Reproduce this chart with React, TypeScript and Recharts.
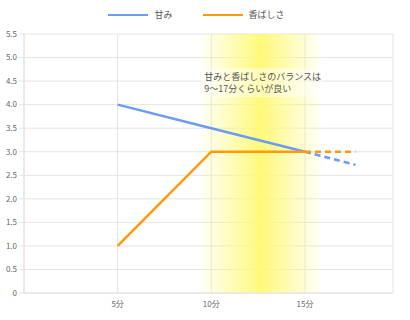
import React from "react"
import {
  LineChart,
  Line,
  XAxis,
  YAxis,
  CartesianGrid,
  Legend,
  ReferenceArea,
} from "recharts"

const minutes = [5, 10, 15]
const amami = [4.0, 3.5, 3.0]
const kaori = [1.0, 3.0, 3.0]

// forecast part, drawn dashed
const forecastMinutes = [15, 17.7]
const amamiForecast = [3.0, 2.72]
const kaoriForecast = [3.0, 3.0]

const yTicks = [0, 0.5, 1, 1.5, 2, 2.5, 3, 3.5, 4, 4.5, 5, 5.5]
const xTicks = [5, 10, 15]
const xLabels = ["5分", "10分", "15分"]

const bandStart = 9.3
const bandEnd = 16
const noteLines = ["甘みと香ばしさのバランスは", "9～17分くらいが良い"]

const BLUE = "#6b9cf2"
const ORANGE = "#ff9a0d"
const GRID = "#e4e4e4"
const FONT = "'Noto Sans CJK JP', 'Noto Sans', sans-serif"

const solidData = minutes.map((m, i) => ({ m, amami: amami[i], kaori: kaori[i] }))
const dashData = forecastMinutes.map((m, i) => ({
  m,
  amamiF: amamiForecast[i],
  kaoriF: kaoriForecast[i],
}))

function formatY(v: number) {
  return v === 0 ? "0" : v.toFixed(1)
}

function formatX(v: number) {
  const i = xTicks.indexOf(v)
  return i >= 0 ? xLabels[i] : ""
}

function LegendContent() {
  const items = [
    { name: "甘み", color: BLUE },
    { name: "香ばしさ", color: ORANGE },
  ]
  return (
    <div style={{ display: "flex", justifyContent: "center", gap: 30, fontFamily: FONT, fontSize: 9, color: "#555", lineHeight: "12px" }}>
      {items.map((it) => (
        <div key={it.name} style={{ display: "flex", alignItems: "center" }}>
          <span style={{ display: "inline-block", width: 40, height: 2.5, background: it.color, marginRight: 6 }} />
          <span>{it.name}</span>
        </div>
      ))}
    </div>
  )
}

function NoteLabel(props: { viewBox?: { x: number; y: number; width: number; height: number } }) {
  const vb = props.viewBox
  if (!vb) return null
  const x = vb.x + 6
  const y = vb.y + 46
  return (
    <g>
      <rect x={x - 3} y={y - 12} width={122} height={29} fill="#fff" fillOpacity={0.45} />
      {noteLines.map((t, i) => (
        <text key={i} x={x} y={y + i * 12} fontSize={9} fill="#555" fontFamily={FONT}>
          {t}
        </text>
      ))}
    </g>
  )
}

export default function App() {
  return (
    <div style={{ position: "absolute", left: 0, top: 0, width: 410, height: 320, background: "#fff" }}>
      <LineChart
        width={410}
        height={320}
        margin={{ top: 22, right: 17, left: 0, bottom: 0 }}
        style={{ fontFamily: FONT }}
      >
        <defs>
          <linearGradient id="bandGradient" x1="0" y1="0" x2="1" y2="0">
            <stop offset="0%" stopColor="#fff97a" stopOpacity={0} />
            <stop offset="50%" stopColor="#fff97a" stopOpacity={1} />
            <stop offset="100%" stopColor="#fff97a" stopOpacity={0} />
          </linearGradient>
        </defs>
        <CartesianGrid stroke={GRID} />
        <XAxis
          type="number"
          dataKey="m"
          domain={[0, 19.7]}
          ticks={xTicks}
          tickFormatter={formatX}
          tick={{ fontSize: 8, fill: "#666" }}
          tickLine={false}
          axisLine={{ stroke: GRID }}
          allowDuplicatedCategory={false}
          height={27}
        />
        <YAxis
          type="number"
          domain={[0, 5.5]}
          ticks={yTicks}
          tickFormatter={formatY}
          tick={{ fontSize: 8, fill: "#666" }}
          tickLine={{ stroke: GRID }}
          tickSize={5}
          axisLine={{ stroke: GRID }}
          width={24}
          interval={0}
        />
        <Legend
          verticalAlign="top"
          content={<LegendContent />}
          wrapperStyle={{ top: 9 }}
        />
        <ReferenceArea
          x1={bandStart}
          x2={bandEnd}
          y1={0}
          y2={5.5}
          fill="url(#bandGradient)"
          fillOpacity={1}
          stroke="none"
          label={<NoteLabel />}
          ifOverflow="visible"
        />
        <Line
          data={solidData}
          dataKey="amami"
          name="甘み"
          stroke={BLUE}
          strokeWidth={2.5}
          dot={false}
          isAnimationActive={false}
        />
        <Line
          data={solidData}
          dataKey="kaori"
          name="香ばしさ"
          stroke={ORANGE}
          strokeWidth={2.5}
          dot={false}
          isAnimationActive={false}
        />
        <Line
          data={dashData}
          dataKey="amamiF"
          stroke={BLUE}
          strokeWidth={2.5}
          strokeDasharray="6 4"
          dot={false}
          isAnimationActive={false}
          legendType="none"
        />
        <Line
          data={dashData}
          dataKey="kaoriF"
          stroke={ORANGE}
          strokeWidth={2.5}
          strokeDasharray="6 4"
          dot={false}
          isAnimationActive={false}
          legendType="none"
        />
      </LineChart>
    </div>
  )
}
